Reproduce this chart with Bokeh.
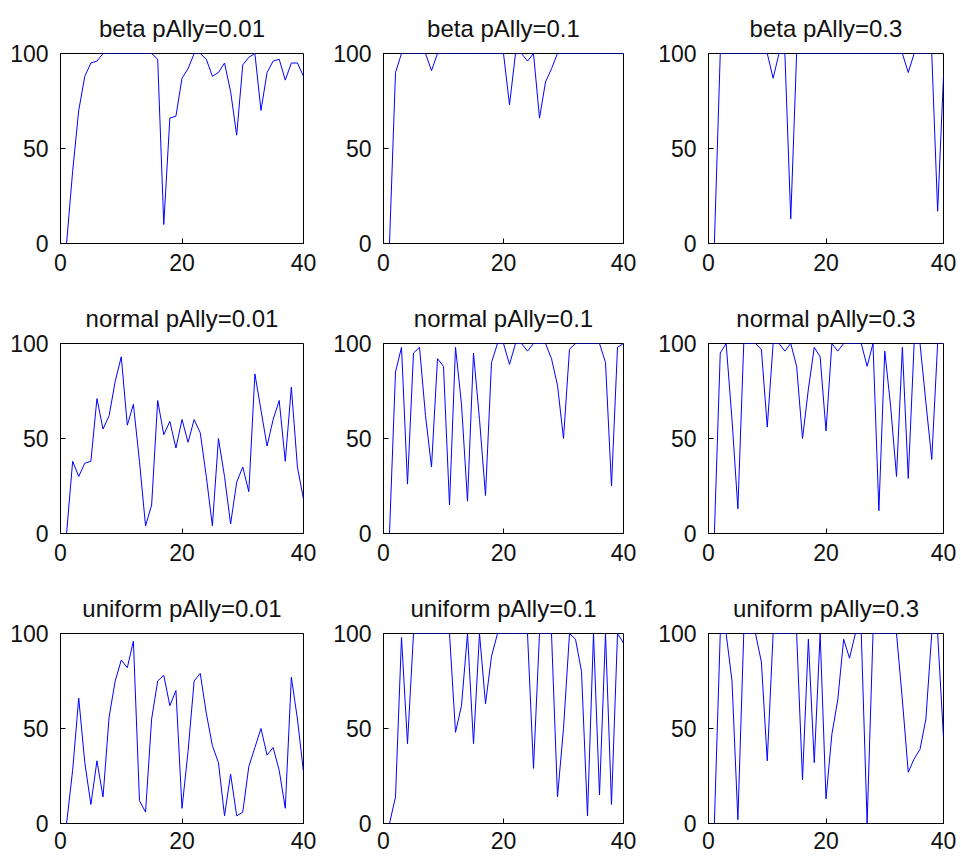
from bokeh.plotting import figure
from bokeh.layouts import gridplot
from bokeh.models import Range1d, FixedTicker
from bokeh.embed import file_html
from bokeh.resources import INLINE

x_steps = list(range(1, 41))
x_ticks = [0, 20, 40]
y_ticks = [0, 50, 100]

titles = [
    "beta pAlly=0.01", "beta pAlly=0.1", "beta pAlly=0.3",
    "normal pAlly=0.01", "normal pAlly=0.1", "normal pAlly=0.3",
    "uniform pAlly=0.01", "uniform pAlly=0.1", "uniform pAlly=0.3",
]

beta_001 = [0, 38, 70, 88, 95, 96, 100, 100, 100, 100, 100, 100, 100, 100, 100, 97, 10, 66, 67, 87,
            92, 100, 100, 97, 88, 90, 95, 80, 57, 94, 98, 100, 70, 90, 96, 97, 86, 95, 95, 88]
beta_01 = [0, 90, 100, 100, 100, 100, 100, 91, 100, 100, 100, 100, 100, 100, 100, 100, 100, 100, 100, 100,
           73, 100, 100, 96, 100, 66, 85, 92, 100, 100, 100, 100, 100, 100, 100, 100, 100, 100, 100, 100]
beta_03 = [0, 100, 100, 100, 100, 100, 100, 100, 100, 100, 87, 100, 100, 13, 100, 100, 100, 100, 100, 100,
           100, 100, 100, 100, 100, 100, 100, 100, 100, 100, 100, 100, 100, 90, 100, 100, 100, 100, 17, 88]
normal_001 = [0, 38, 30, 37, 38, 71, 55, 62, 80, 93, 57, 68, 38, 4, 15, 70, 52, 59, 45, 60,
              48, 60, 53, 30, 4, 50, 30, 5, 27, 35, 22, 84, 65, 46, 60, 70, 38, 77, 35, 18]
normal_01 = [0, 85, 98, 26, 95, 98, 62, 35, 92, 88, 15, 98, 68, 17, 95, 60, 20, 90, 100, 100,
             89, 100, 100, 96, 100, 100, 100, 92, 78, 50, 97, 100, 100, 100, 100, 100, 90, 25, 98, 100]
normal_03 = [0, 95, 100, 60, 13, 100, 100, 100, 97, 56, 100, 100, 96, 100, 88, 50, 76, 98, 93, 54,
             100, 96, 100, 100, 100, 100, 88, 100, 12, 96, 67, 30, 98, 29, 100, 100, 69, 39, 100, 100]
uniform_001 = [0, 28, 66, 32, 10, 33, 14, 56, 75, 86, 82, 96, 12, 6, 55, 75, 78, 62, 70, 8,
               38, 75, 79, 58, 41, 32, 4, 26, 4, 6, 30, 40, 50, 36, 40, 28, 8, 77, 55, 27]
uniform_01 = [0, 14, 98, 42, 100, 100, 100, 100, 100, 100, 100, 48, 62, 100, 42, 100, 63, 88, 100, 100,
              100, 100, 100, 100, 29, 100, 100, 100, 14, 50, 100, 97, 80, 4, 100, 15, 100, 10, 100, 95]
uniform_03 = [0, 100, 100, 75, 2, 100, 100, 100, 85, 33, 100, 100, 100, 100, 100, 23, 97, 32, 100, 13,
              47, 65, 97, 87, 100, 100, 0, 100, 100, 100, 100, 100, 65, 27, 34, 39, 55, 100, 100, 45]

series = [beta_001, beta_01, beta_03, normal_001, normal_01, normal_03,
          uniform_001, uniform_01, uniform_03]

FONT = "Liberation Sans"
col_frame = [243, 241, 236]
col_left = [60, 52, 52]
col_right = [27, 32, 16]
row_top = [53, 55, 55]
row_bottom = [45, 45, 35]
row_xstand = [10, 10, 8]
frame_h = 190

figs = []
for r in range(3):
    row = []
    for c in range(3):
        i = r * 3 + c
        p = figure(
            width=col_left[c] + col_frame[c] + col_right[c],
            height=row_top[r] + frame_h + row_bottom[r],
            x_range=Range1d(0, 40), y_range=Range1d(0, 100),
            output_backend="svg", toolbar_location=None,
            min_border_left=col_left[c], min_border_right=col_right[c],
            min_border_top=row_top[r], min_border_bottom=row_bottom[r],
            title=titles[i],
        )
        p.title.align = "center"
        p.title.vertical_align = "top"
        p.title.text_font = FONT
        p.title.text_font_size = "24px"
        p.title.text_font_style = "normal"
        p.title.text_color = "#111111"
        p.title.standoff = 20
        p.grid.visible = False
        p.outline_line_color = "black"
        p.outline_line_width = 1
        p.background_fill_color = "white"
        p.border_fill_color = "white"

        for ax, ticks in ((p.xaxis, x_ticks), (p.yaxis, y_ticks)):
            ax.ticker = FixedTicker(ticks=ticks)
            ax.major_tick_in = 5
            ax.major_tick_out = 0
            ax.minor_tick_line_color = None
            ax.axis_line_color = "black"
            ax.major_tick_line_color = "black"
            ax.major_label_text_font = FONT
            ax.major_label_text_font_size = "23px"
            ax.major_label_text_color = "#111111"
        p.xaxis.major_label_standoff = row_xstand[r]
        p.yaxis.major_label_standoff = 12

        p.line(x_steps, series[i], line_color="#0000ff", line_width=1)
        row.append(p)
    figs.append(row)

grid = gridplot(figs, toolbar_location=None)
open("out.html", "w").write(file_html(grid, INLINE))
